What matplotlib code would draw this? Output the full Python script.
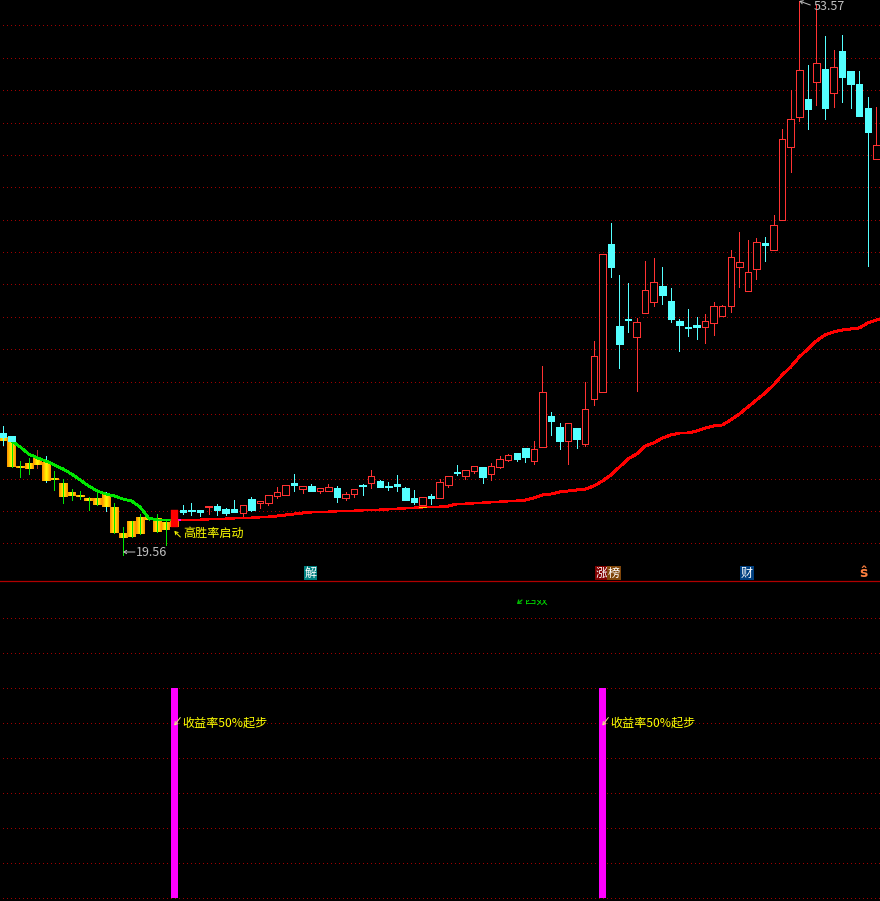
import numpy as np
import matplotlib
matplotlib.use("Agg")
from matplotlib import pyplot as plt
from matplotlib.colors import LinearSegmentedColormap
from matplotlib.patches import Rectangle
from matplotlib.transforms import IdentityTransform

plt.rcParams['font.family'] = ['Noto Sans CJK SC', 'DejaVu Sans']

# price levels are in chart units (log scale height above the panel divider)
opens = [148, 140, 115, 118, 123, 119, 103, 98, 89, 86, 83, 83, 87, 74, 48, 60, 64, 64, 63, 59,
         54, 71, 71, 71, 74, 75, 72, 72, 68, 82, 78, 78, 85, 86, 98, 92, 95, 90, 90, 93,
         83, 87, 96, 98, 100, 95, 97, 93, 83, 76, 85, 83, 96, 109, 105, 110, 114, 107, 114, 121,
         128, 133, 120, 134, 165, 154, 140, 153, 137, 182, 189, 337, 255, 262, 244, 268, 279, 295, 280, 260,
         254, 256, 254, 258, 265, 275, 314, 290, 312, 338, 331, 361, 434, 464, 482, 499, 512, 488, 530, 510,
         497, 473, 422]
closes = [144, 114, 113, 112, 116, 100, 101, 84, 85, 84, 80, 76, 74, 48, 43, 44, 47, 61, 49, 51,
          71, 69, 70, 69, 75, 71, 68, 69, 76, 71, 80, 86, 89, 96, 96, 95, 90, 93, 94, 84,
          87, 92, 95, 105, 94, 94, 95, 81, 79, 84, 83, 99, 105, 108, 111, 115, 104, 115, 122, 126,
          122, 124, 132, 189, 160, 140, 158, 142, 172, 225, 327, 314, 237, 261, 259, 291, 299, 286, 262, 256,
          253, 254, 260, 275, 275, 324, 319, 309, 339, 336, 356, 442, 462, 511, 472, 518, 473, 514, 504, 497,
          465, 449, 436]
highs = [155, 140, 120, 123, 131, 125, 110, 102, 92, 90, 84, 89, 89, 78, 54, 60, 67, 64, 67, 62,
         71, 76, 78, 71, 75, 77, 73, 81, 76, 84, 80, 86, 94, 96, 107, 95, 97, 93, 97, 95,
         89, 92, 97, 111, 101, 99, 106, 94, 91, 84, 87, 102, 105, 116, 111, 115, 114, 118, 125, 127,
         128, 133, 140, 215, 169, 158, 158, 153, 199, 240, 327, 358, 306, 298, 263, 320, 323, 314, 293, 262,
         272, 264, 267, 279, 276, 331, 349, 341, 343, 344, 366, 452, 491, 580, 516, 577, 545, 531, 546, 510,
         510, 484, 474]
lows = [136, 114, 104, 107, 113, 99, 91, 78, 81, 82, 71, 76, 70, 48, 26, 44, 47, 61, 49, 36,
        54, 67, 66, 65, 67, 66, 66, 69, 64, 70, 73, 76, 83, 86, 90, 88, 90, 88, 90, 79,
        81, 84, 86, 93, 94, 91, 90, 81, 77, 76, 77, 83, 94, 106, 102, 108, 98, 101, 113, 120,
        120, 119, 117, 134, 146, 132, 117, 133, 135, 176, 189, 304, 213, 249, 190, 268, 275, 277, 259, 230,
        245, 242, 238, 246, 265, 269, 294, 290, 302, 320, 331, 361, 409, 460, 452, 476, 462, 474, 479, 473,
        465, 315, 422]
ma_green = [140, 134, 127, 123, 120, 116, 112, 107, 101, 95, 90, 87, 85, 82, 80, 74, 63, 61, 61, 61]
ma_red = [61, 61, 61, 62, 62, 62, 63, 63, 63, 64, 64, 65, 66, 67, 68, 69, 69, 69, 70, 70,
          70, 71, 71, 71, 72, 72, 73, 73, 74, 74, 74, 75, 77, 77, 78, 78, 79, 79, 80, 80,
          81, 83, 86, 87, 89, 90, 91, 92, 95, 100, 106, 114, 122, 127, 135, 138, 143, 146, 148, 148,
          150, 153, 155, 156, 161, 167, 174, 181, 188, 196, 206, 214, 224, 232, 240, 246, 249, 251, 252, 253,
          258, 261, 262]
grid_levels = [38, 70, 102, 135, 167, 199, 232, 264, 297, 329, 361, 394, 426, 458, 491, 523, 556]
signal_index = [20, 70]
signal_value = [1, 1]

RED = '#ff3232'
CYAN = '#54ffff'
GREEN = '#00e600'
GRID = '#a00000'
YELLOW = '#ffff00'
GREY = '#c0c0c0'
FS = 8.7
THIN = 0.5

n = len(opens)
xs = np.arange(n)
gold = LinearSegmentedColormap.from_list('gold', ['#ff9000', '#ffff00', '#ff9000'])
ramp = np.linspace(0, 1, 16).reshape(1, -1)

fig = plt.figure(figsize=(8.8, 9.01), facecolor='black')
ax = fig.add_axes([0, 320 / 901, 1, 581 / 901], facecolor='black')
low_ax = fig.add_axes([0, 0, 1, 320 / 901], facecolor='black')


def candle_body(i, top, bot, col):
    ax.bar(i, top - bot, bottom=bot, width=0.76, fc=col, ec=col, lw=THIN, antialiased=False, zorder=4)


def gold_body(i, top, bot):
    ax.imshow(ramp, cmap=gold, extent=(i - 0.5, i + 0.5, bot, top), aspect='auto', zorder=2, interpolation='bilinear')


def wick(i, lo, hi, col):
    ax.vlines(i, lo, hi, color=col, lw=THIN, antialiased=False, zorder=3)


ax.hlines(grid_levels, -1, n, color=GRID, lw=0.72, ls=(0, (1, 3)), antialiased=False, zorder=1)

# first candles sit on top of the yellow block
candle_body(0, opens[0], closes[0], CYAN)
wick(0, lows[0], highs[0], CYAN)
gold_body(0, closes[0], closes[0] - 4)
candle_body(1, 145, 140, CYAN)

# falling part: yellow blocks with green wicks
wick_cols = {4: '#b03030', 5: CYAN, 12: CYAN}
for i in range(1, 20):
    gold_body(i, opens[i], closes[i])
    if i in wick_cols:
        wick(i, opens[i], highs[i], wick_cols[i])
        wick(i, lows[i], closes[i], wick_cols[i])
    else:
        wick(i, lows[i], highs[i], GREEN)

ax.plot(xs[1:21], ma_green, color=GREEN, lw=1.3, antialiased=False, zorder=3)
ax.plot([20, 21], ma_red[:1] * 2, color='#ff00ff', lw=1.2, antialiased=False, zorder=3)
ax.plot(np.arange(21, 21 + len(ma_red)), ma_red, color='#ff0000', lw=1.4, antialiased=False, zorder=5)

# start candle
gold_body(20, 61, 54)
ax.bar(20, closes[20] - opens[20], bottom=opens[20], width=0.76, fc='#ff0000', ec='#ff0000', lw=0.3, zorder=4)
ax.hlines(74, 48.6, 49.4, color='#ffc000', lw=0.7, antialiased=False, zorder=6)

for i in range(21, n):
    top, bot = max(opens[i], closes[i]), min(opens[i], closes[i])
    if closes[i] > opens[i]:
        wick(i, top, highs[i], RED)
        wick(i, lows[i], bot, RED)
        ax.bar(i, top - bot, bottom=bot, width=0.76, fc='black', ec=RED, lw=0.72, antialiased=False, zorder=4)
    else:
        wick(i, lows[i], highs[i], CYAN)
        candle_body(i, top, bot, CYAN)

ax.set_xlim(-0.362, 102.43)
ax.set_ylim(0, 581)
ax.axis('off')


def label(a, txt, xy, dx, dy, col, **kw):
    return a.annotate(txt, xy=xy, xytext=(dx, dy), textcoords='offset pixels', color=col,
                      fontsize=kw.pop('fontsize', FS), va='center', annotation_clip=False, **kw)


def arrow(a, xy, dx, dy, col):
    a.annotate('', xy=xy, xytext=(dx, dy), textcoords='offset pixels',
               arrowprops=dict(arrowstyle='->,head_length=0.2,head_width=0.12', color=col, lw=0.7,
                               shrinkA=0, shrinkB=0))


# low / high labels
label(ax, '19.56', (14, 29), 13, -1, GREY, fontsize=9)
arrow(ax, (14, 29), 12, 0, GREY)
label(ax, '53.57', (93, 576), 14, -2, GREY, fontsize=9)
arrow(ax, (93, 580), 11, -4, GREY)

label(ax, '高胜率启动', (20, 50), 9, -2, YELLOW)
arrow(ax, (20, 50), 6, -6, YELLOW)

# event badges above the divider
for txt, idx, dx, col in [('解', 36, -1, '#008080'), ('涨', 70, -1, '#800000'), ('榜', 71, 3, '#80460a'), ('财', 87, -1, '#003f7f')]:
    label(ax, txt, (idx, 8), dx, 0, 'white', ha='center', bbox=dict(boxstyle='square,pad=0.06', fc=col, ec='none'))
label(ax, 'ŝ', (101, 8), -4, 0, '#ff8040', ha='center', fontweight='bold', fontsize=10)
ax.axhline(0.5, color='#b00000', lw=0.9, zorder=6, clip_on=False)

# lower panel
low_ax.hlines(np.arange(0, 9) / 6, -1, n, color=GRID, lw=0.72, ls=(0, (1, 3)), antialiased=False, zorder=1)
low_ax.bar(signal_index, signal_value, width=0.82, color='#ff00ff', zorder=2)
for idx in signal_index:
    label(low_ax, '收益率50%起步', (idx, 5 / 6), 8, 0, YELLOW, zorder=4)
    arrow(low_ax, (idx, 5 / 6 - 0.012), 6, 8, '#f0f080')
low_ax.set_xlim(-0.362, 102.43)
low_ax.set_ylim(-3 / 210, 317 / 210)
low_ax.axis('off')

# caption at the top of the lower panel, only its lower half shows
clip = Rectangle((515, 901 - 607), 40, 7, transform=IdentityTransform())
t = fig.text(525 / 880, 1 - 600 / 901, '四奴', color='#00e000', fontsize=8.2, va='center', ha='left')
t.set_clip_path(clip)
t.set_clip_on(True)
low_ax.annotate('', xy=(517 / 880, 1 - 604 / 901), xytext=(522 / 880, 1 - 600 / 901), xycoords='figure fraction',
                textcoords='figure fraction',
                arrowprops=dict(arrowstyle='->,head_length=0.2,head_width=0.15', color='#00c000', lw=0.9,
                                shrinkA=0, shrinkB=0))

fig.savefig('out.png', dpi=100, facecolor='black')
